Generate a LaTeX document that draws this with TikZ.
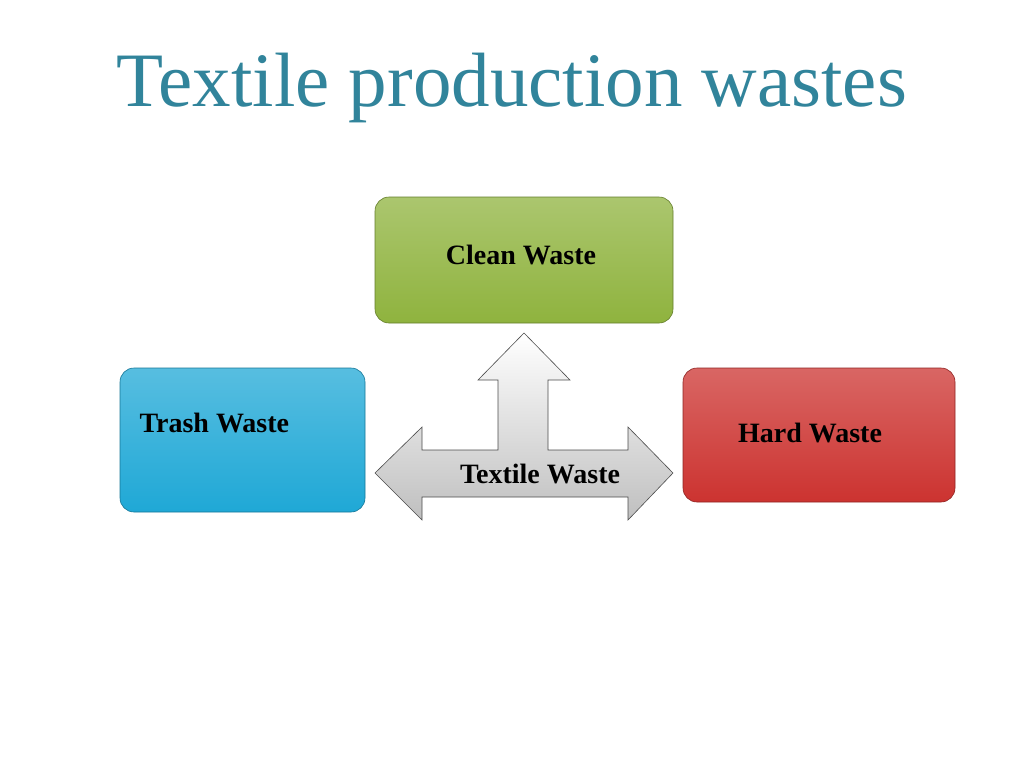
\documentclass[tikz,border=0pt]{standalone}
\usepackage{fontspec}
\setmainfont{Liberation Serif}
\begin{document}
\begin{tikzpicture}[x=1pt,y=-1pt,
  box/.style={rounded corners=14pt, draw=#1!70!black, line width=0.6pt, top color=#1!75!white, bottom color=#1, minimum width=0pt},
  lbl/.style={font=\bfseries\fontsize{28}{30}\selectfont}]
\useasboundingbox (0,0) rectangle (1024,768);
\definecolor{tl}{HTML}{31849B}
\definecolor{gr}{HTML}{8FB33E}
\definecolor{bl}{HTML}{1FA8D6}
\definecolor{rd}{HTML}{CC3330}
\node[text=tl, font=\fontsize{77}{82}\selectfont] (title) at (512,88) {Textile production wastes};
\draw[box=gr] (375,197) rectangle (673,323);
\draw[box=bl] (120,368) rectangle (365,512);
\draw[box=rd] (683,368) rectangle (955,502);
\node[lbl] (clean) at (521,255) {Clean Waste};
\node[lbl, anchor=west] (trash) at (136,423) {Trash Waste};
\node[lbl] (hard) at (810,433) {Hard Waste};
\draw[draw=black!70, line width=0.6pt, top color=white, bottom color=black!25]
 (375,473) -- (422,427) -- (422,450) -- (498,450) -- (498,380) -- (478,380) -- (524,333)
 -- (570,380) -- (548,380) -- (548,450) -- (628,450) -- (628,427) -- (673,473)
 -- (628,520) -- (628,497) -- (422,497) -- (422,520) -- cycle;
\node[lbl] (textile) at (540,474) {Textile Waste};
\end{tikzpicture}
\end{document}
